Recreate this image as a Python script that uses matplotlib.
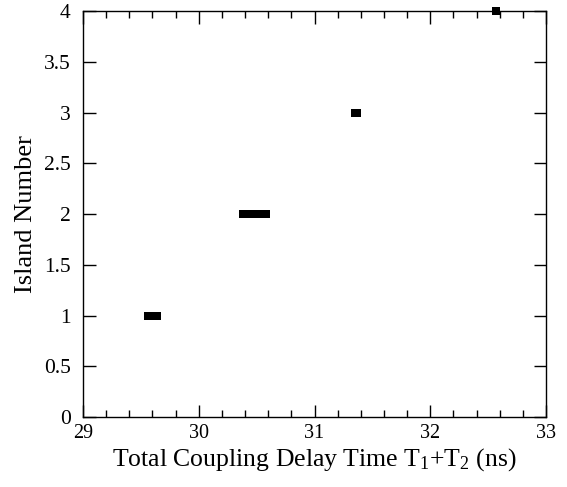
import matplotlib
matplotlib.use("Agg")
import matplotlib.pyplot as plt
from matplotlib.ticker import MultipleLocator, FuncFormatter

island1_x = [29.56, 29.58, 29.60, 29.62, 29.64]
island2_x = [30.38, 30.40, 30.42, 30.44, 30.46, 30.48, 30.50, 30.52, 30.54, 30.56, 30.58]
island3_x = [31.35, 31.37]
island4_x = [32.57]
islands = [island1_x, island2_x, island3_x, island4_x]
island_numbers = [1, 2, 3, 4]

SERIF = ['Liberation Serif', 'DejaVu Serif']
plt.rcParams['font.family'] = SERIF
plt.rcParams['mathtext.fontset'] = 'custom'
plt.rcParams['mathtext.rm'] = 'Liberation Serif'
plt.rcParams['mathtext.it'] = 'Liberation Serif:italic'
plt.rcParams['mathtext.bf'] = 'Liberation Serif:bold'

fig = plt.figure(figsize=(5.67, 4.87), dpi=100)
ax = fig.add_axes([0.1464, 0.1437, 0.8166, 0.8333])

for xs, n in zip(islands, island_numbers):
    ax.plot(xs, [n] * len(xs), linestyle='none', marker='s', markersize=6,
            markeredgewidth=0, color='black', clip_on=False)

ax.set_xlim(29, 33)
ax.set_ylim(0, 4)
ax.xaxis.set_major_locator(MultipleLocator(1))
ax.xaxis.set_minor_locator(MultipleLocator(0.2))
ax.yaxis.set_major_locator(MultipleLocator(0.5))
ax.yaxis.set_major_formatter(FuncFormatter(lambda v, p: f"{v:g}"))
ax.tick_params(which='both', direction='in', top=True, right=True)
ax.tick_params(which='major', length=9, width=1)
ax.tick_params(which='minor', length=5, width=1)
ax.tick_params(axis='x', pad=5, labelsize=14.5)
ax.tick_params(axis='y', pad=9, labelsize=15.5)
for lab in ax.get_xticklabels() + ax.get_yticklabels():
    lab.set_fontfamily(SERIF)
for s in ax.spines.values():
    s.set_linewidth(1)

ax.set_xlabel(r"Total Coupling Delay Time T$_\mathrm{1}$+T$_\mathrm{2}$ (ns)", fontsize=18.5, labelpad=2)
ax.set_ylabel("Island Number", fontsize=19, labelpad=5)
fig.savefig("out.png", dpi=100)
